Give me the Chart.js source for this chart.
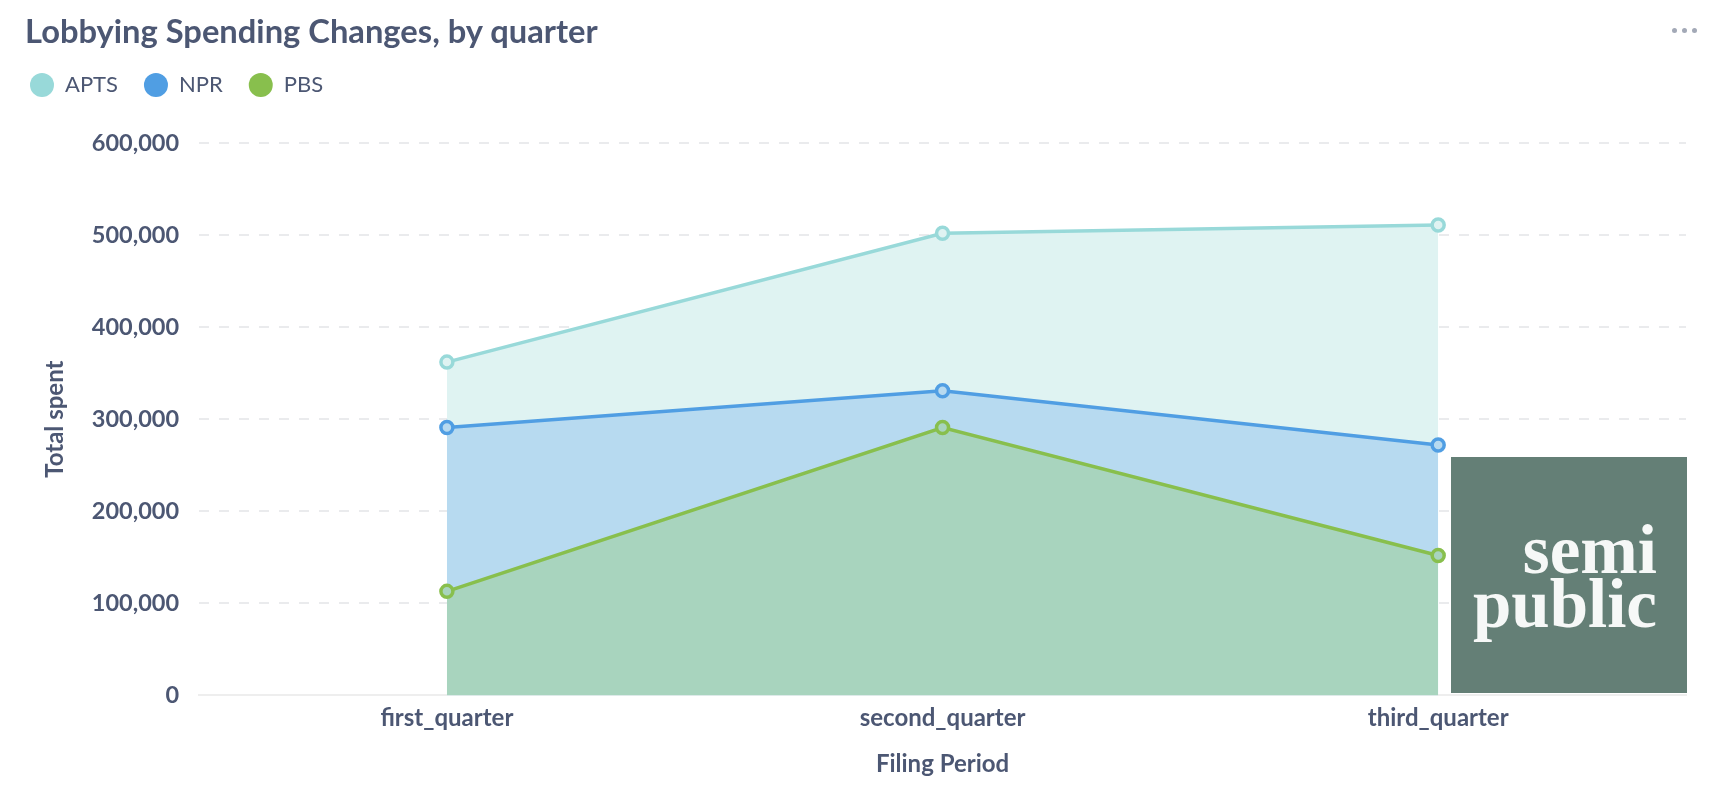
<!DOCTYPE html>
<html>
<head>
<meta charset="utf-8">
<title>Lobbying Spending Changes, by quarter</title>
<script src="https://cdn.jsdelivr.net/npm/chart.js@4.4.1/dist/chart.umd.min.js"></script>
<style>
    html, body { margin: 0; padding: 0; background: #fff; }
    #wrap { position: relative; width: 1732px; height: 794px; font-family: Lato, sans-serif; }
    #chartTitle { position: absolute; left: 25px; top: 11px; margin: 0; font-size: 32.7px; line-height: 40px; font-weight: 700; color: #4C5773; }
    #menuDots { position: absolute; left: 1672px; top: 28px; display: flex; }
    #menuDots span { display: block; width: 5px; height: 5px; border-radius: 50%; background: #A3A9B7; margin-right: 5px; }
    #logo { position: absolute; left: 1451px; top: 457px; width: 236px; height: 236px; background: #647F76; box-sizing: border-box; padding: 66px 30px 0 0; text-align: right; color: #F6F8F7; font-family: "Liberation Serif", serif; font-weight: 700; font-size: 69px; line-height: 54px; }
</style>
</head>
<body>
<div id="wrap">
    <canvas id="spendingChart" width="1732" height="794"></canvas>
    <h1 id="chartTitle">Lobbying Spending Changes, by quarter</h1>
    <div id="menuDots"><span></span><span></span><span></span></div>
    <div id="logo">semi<br>public</div>
</div>
<script>
// Chart data
var quarters = ['first_quarter', 'second_quarter', 'third_quarter'];
var aptsSpent = [362000, 502000, 511000];
var nprSpent = [291000, 331000, 272000];
var pbsSpent = [113000, 291000, 152000];
var yTicks = [0, 100000, 200000, 300000, 400000, 500000, 600000];

document.addEventListener('DOMContentLoaded', function() {
    var textColor = '#4C5773';

    // adds some room under the legend
    var legendMargin = {
        id: 'legendMargin',
        beforeInit: function(chart) {
            var fit = chart.legend.fit;
            chart.legend.fit = function() {
                fit.bind(chart.legend)();
                this.height += 37;
            };
        }
    };

    var ctx = document.getElementById('spendingChart').getContext('2d');
    var spendingChart = new Chart(ctx, {
        type: 'line',
        data: {
            labels: quarters,
            datasets: [{
                label: 'APTS',
                data: aptsSpent,
                order: 3,
                borderColor: '#98D9D9',
                backgroundColor: '#DFF3F2',
                fill: 'origin'
            }, {
                label: 'NPR',
                data: nprSpent,
                order: 2,
                borderColor: '#509EE3',
                backgroundColor: '#B7DAF0',
                fill: 'origin'
            }, {
                label: 'PBS',
                data: pbsSpent,
                order: 1,
                borderColor: '#88BF4D',
                backgroundColor: '#A8D4BE',
                fill: 'origin'
            }]
        },
        options: {
            responsive: false,
            animation: false,
            layout: {
                padding: { top: 48, left: 4, right: 46, bottom: 5 }
            },
            elements: {
                line: { borderWidth: 3.5, tension: 0 },
                point: {
                    radius: 6,
                    borderWidth: 3.5,
                    backgroundColor: '#ffffff',
                    hoverRadius: 6
                }
            },
            plugins: {
                title: { display: false },
                tooltip: { enabled: false },
                legend: {
                    position: 'top',
                    align: 'start',
                    labels: {
                        usePointStyle: true,
                        pointStyle: 'circle',
                        pointStyleWidth: 24,
                        boxHeight: 17,
                        padding: 26,
                        color: textColor,
                        font: { family: 'Lato', size: 22 },
                        sort: function(a, b) { return a.datasetIndex - b.datasetIndex; },
                        generateLabels: function(chart) {
                            return chart.data.datasets.map(function(ds, i) {
                                return {
                                    text: ds.label,
                                    fillStyle: ds.borderColor,
                                    strokeStyle: ds.borderColor,
                                    lineWidth: 0,
                                    pointStyle: 'circle',
                                    fontColor: textColor,
                                    datasetIndex: i
                                };
                            });
                        }
                    }
                }
            },
            scales: {
                x: {
                    offset: true,
                    grid: { display: false, drawTicks: false },
                    border: { display: true, color: '#EEEEEE', width: 2 },
                    ticks: {
                        padding: 8,
                        color: textColor,
                        font: { family: 'Lato', size: 24, weight: 'bold' }
                    },
                    title: {
                        display: true,
                        text: 'Filing Period',
                        color: textColor,
                        padding: { top: 10, bottom: 10 },
                        font: { family: 'Lato', size: 24, weight: 'bold' }
                    }
                },
                y: {
                    min: 0,
                    max: 600000,
                    afterBuildTicks: function(axis) {
                        axis.ticks = yTicks.map(function(v) { return { value: v }; });
                    },
                    grid: { color: '#EAEBED', lineWidth: 2, drawTicks: false },
                    border: { display: false, dash: [10, 10] },
                    ticks: {
                        padding: 20,
                        color: textColor,
                        font: { family: 'Lato', size: 23.5, weight: 'bold' },
                        callback: function(value) {
                            return value.toLocaleString('en-US');
                        }
                    },
                    title: {
                        display: true,
                        text: 'Total spent',
                        color: textColor,
                        padding: { top: 37, bottom: 2 },
                        font: { family: 'Lato', size: 24, weight: 'bold' }
                    }
                }
            }
        },
        plugins: [legendMargin]
    });
});
</script>
</body>
</html>
